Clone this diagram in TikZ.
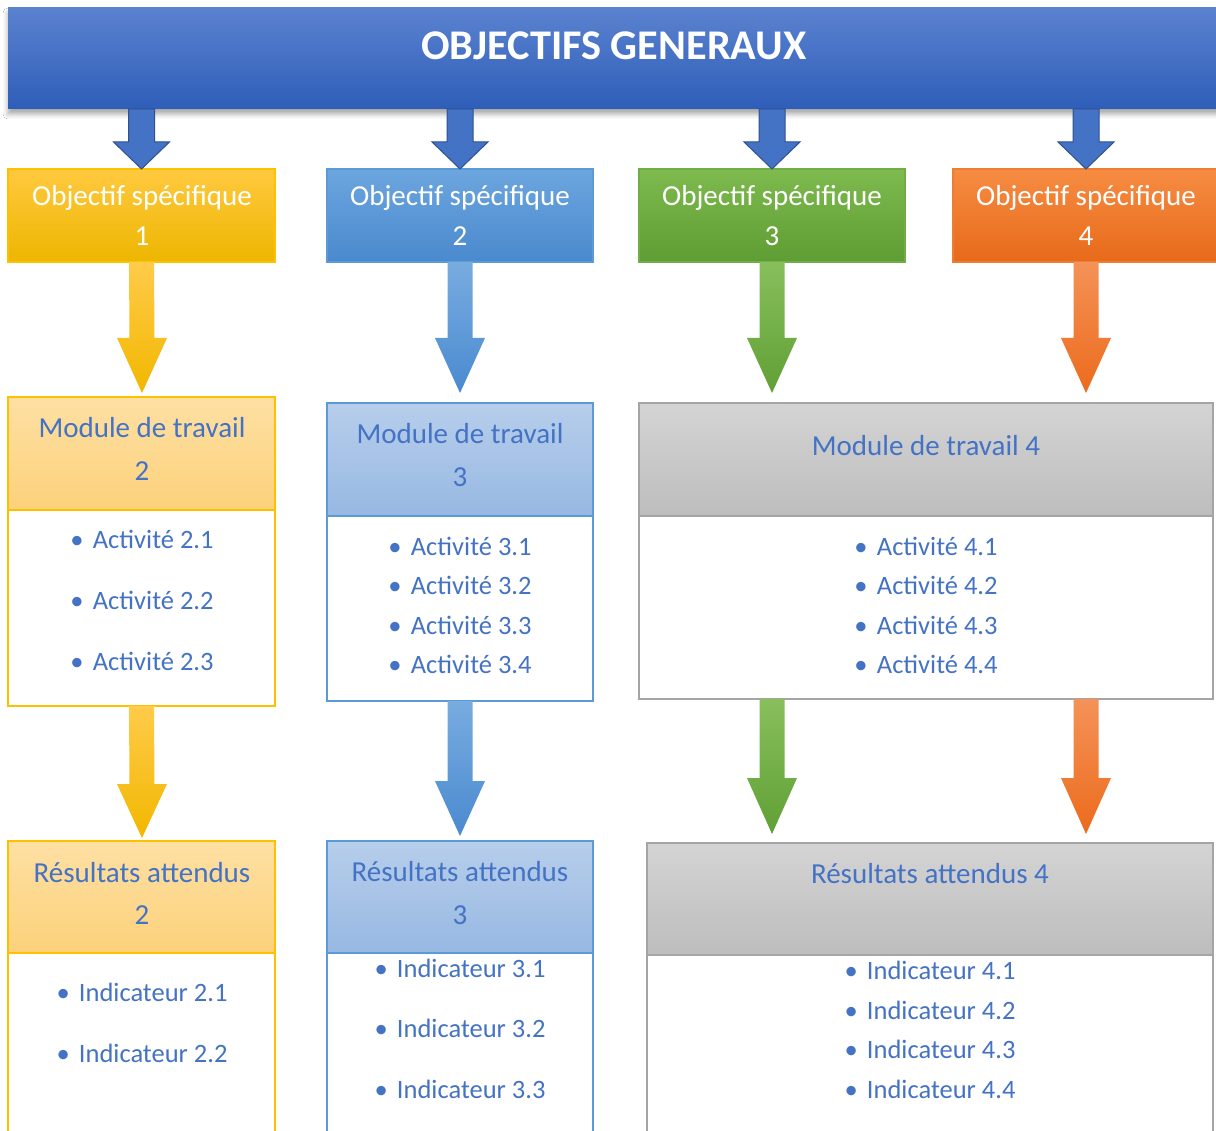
\documentclass[tikz,border=0pt]{standalone}
\usepackage{fontspec}
\setmainfont{Carlito}
\usetikzlibrary{calc,fit,shadows.blur}

\definecolor{bantop}{HTML}{5B82CF}
\definecolor{banbot}{HTML}{2E5EB9}
\definecolor{arrblue}{HTML}{4472C4}
\definecolor{arrblueedge}{HTML}{2F528F}
\definecolor{txtblue}{HTML}{4472C4}
\definecolor{ytop}{HTML}{FFC93F}
\definecolor{ybot}{HTML}{EDB600}
\definecolor{yedge}{HTML}{FFC000}
\definecolor{btop}{HTML}{6CA6DF}
\definecolor{bbot}{HTML}{4A89CE}
\definecolor{bedge}{HTML}{5B9BD5}
\definecolor{gtop}{HTML}{7EBA4E}
\definecolor{gbot}{HTML}{5E9D33}
\definecolor{gedge}{HTML}{70AD47}
\definecolor{otop}{HTML}{F68C42}
\definecolor{obot}{HTML}{E86A1A}
\definecolor{oedge}{HTML}{ED7D31}
\definecolor{yhtop}{HTML}{FEE0A4}
\definecolor{yhbot}{HTML}{FCD17A}
\definecolor{bhtop}{HTML}{B7CEEB}
\definecolor{bhbot}{HTML}{97B8E2}
\definecolor{ghtop}{HTML}{D4D4D4}
\definecolor{ghbot}{HTML}{BDBDBD}
\definecolor{grayedge}{HTML}{A5A5A5}
\definecolor{yatop}{HTML}{FFCB4A}
\definecolor{yabot}{HTML}{F2B700}
\definecolor{batop}{HTML}{78ACE0}
\definecolor{babot}{HTML}{4A8AD0}
\definecolor{gatop}{HTML}{88BF5C}
\definecolor{gabot}{HTML}{60A035}
\definecolor{oatop}{HTML}{F49257}
\definecolor{oabot}{HTML}{EC6B1C}

\newcommand\blockarrow[6]{%
  \path[#1] ($(#2)+(-#4,0)$) -- ($(#3)+(-#4,-#6)$) -- ($(#3)+(-#5,-#6)$) -- (#3)
    -- ($(#3)+(#5,-#6)$) -- ($(#3)+(#4,-#6)$) -- ($(#2)+(#4,0)$) -- cycle;}

\tikzset{
  panel/.style={inner sep=0pt, outer sep=0pt, line width=1.6pt},
  objtext/.style={font=\fontsize{29}{35}\selectfont, text=white, anchor=base, inner sep=0pt},
  headtext/.style={font=\fontsize{29}{35}\selectfont, text=txtblue, anchor=base, inner sep=0pt},
  itemtext/.style={font=\fontsize{26.5}{32}\selectfont, text=txtblue, anchor=base, inner sep=0pt},
}

\begin{document}
\begin{tikzpicture}[x=1pt,y=-1pt]
\useasboundingbox (0,0) rectangle (1216,1131);
\clip (0,0) rectangle (1216,1131);
\fill[white] (0,0) rectangle (1216,1131);

% banner
\node[panel, fit={(8,8)(1230,109)}, top color=bantop, bottom color=banbot,
      blur shadow={shadow xshift=0pt, shadow yshift=-5pt, shadow blur radius=5pt, shadow opacity=35}] (ban) {};
\node[font=\bfseries\fontsize{42.3}{50}\selectfont, text=white, anchor=base, inner sep=0pt] (title) at (614,60) {OBJECTIFS GENERAUX};

% objective boxes
\node[panel, fit={(8,169)(275,262)}, draw=yedge, top color=ytop, bottom color=ybot] (o1) {};
\node[panel, fit={(327,169)(593,262)}, draw=bedge, top color=btop, bottom color=bbot] (o2) {};
\node[panel, fit={(639,169)(905,262)}, draw=gedge, top color=gtop, bottom color=gbot] (o3) {};
\node[panel, fit={(953,169)(1219,262)}, draw=oedge, top color=otop, bottom color=obot] (o4) {};

\node[objtext] (o1a) at (142,206) {Objectif spécifique};
\node[objtext] (o1b) at (142,246) {1};
\node[objtext] (o2a) at (460,206) {Objectif spécifique};
\node[objtext] (o2b) at (460,246) {2};
\node[objtext] (o3a) at (772,206) {Objectif spécifique};
\node[objtext] (o3b) at (772,246) {3};
\node[objtext] (o4a) at (1086,206) {Objectif spécifique};
\node[objtext] (o4b) at (1086,246) {4};

% arrows from banner
\foreach \o in {o1,o2,o3,o4}{
  \coordinate (\o top) at (\o.north |- ban.south);
  \blockarrow{fill=arrblue, draw=arrblueedge, line width=1pt, line join=miter}{\o top}{\o.north}{13}{28}{27}
}

% modules
\node[panel, fit={(8,397)(275,510)}, draw=yedge, top color=yhtop, bottom color=yhbot] (m2h) {};
\node[panel, fit={(8,510)(275,706)}, draw=yedge, fill=white] (m2b) {};
\node[panel, fit={(327,403)(593,516)}, draw=bedge, top color=bhtop, bottom color=bhbot] (m3h) {};
\node[panel, fit={(327,516)(593,701)}, draw=bedge, fill=white] (m3b) {};
\node[panel, fit={(639,403)(1213,516)}, draw=grayedge, top color=ghtop, bottom color=ghbot] (m4h) {};
\node[panel, fit={(639,516)(1213,699)}, draw=grayedge, fill=white] (m4b) {};

\node[headtext] (m2t1) at (142,438) {Module de travail};
\node[headtext] (m2t2) at (142,480) {2};
\node[itemtext] (a21) at (142,548) {•\hspace{0.35em}Activité 2.1};
\node[itemtext] (a22) at (142,609) {•\hspace{0.35em}Activité 2.2};
\node[itemtext] (a23) at (142,670) {•\hspace{0.35em}Activité 2.3};

\node[headtext] (m3t1) at (460,444) {Module de travail};
\node[headtext] (m3t2) at (460,486) {3};
\node[itemtext] (a31) at (460,555) {•\hspace{0.35em}Activité 3.1};
\node[itemtext] (a32) at (460,594) {•\hspace{0.35em}Activité 3.2};
\node[itemtext] (a33) at (460,634) {•\hspace{0.35em}Activité 3.3};
\node[itemtext] (a34) at (460,673) {•\hspace{0.35em}Activité 3.4};

\node[headtext] (m4t1) at (926,456) {Module de travail 4};
\node[itemtext] (a41) at (926,555) {•\hspace{0.35em}Activité 4.1};
\node[itemtext] (a42) at (926,594) {•\hspace{0.35em}Activité 4.2};
\node[itemtext] (a43) at (926,634) {•\hspace{0.35em}Activité 4.3};
\node[itemtext] (a44) at (926,673) {•\hspace{0.35em}Activité 4.4};

% results
\node[panel, fit={(8,841)(275,953)}, draw=yedge, top color=yhtop, bottom color=yhbot] (r2h) {};
\node[panel, fit={(8,953)(275,1160)}, draw=yedge, fill=white] (r2b) {};
\node[panel, fit={(327,841)(593,953)}, draw=bedge, top color=bhtop, bottom color=bhbot] (r3h) {};
\node[panel, fit={(327,953)(593,1160)}, draw=bedge, fill=white] (r3b) {};
\node[panel, fit={(647,843)(1213,955)}, draw=grayedge, top color=ghtop, bottom color=ghbot] (r4h) {};
\node[panel, fit={(647,955)(1213,1160)}, draw=grayedge, fill=white] (r4b) {};

\node[headtext] (r2t1) at (142,882) {Résultats attendus};
\node[headtext] (r2t2) at (142,924) {2};
\node[itemtext] (i21) at (142,1001) {•\hspace{0.35em}Indicateur 2.1};
\node[itemtext] (i22) at (142,1062) {•\hspace{0.35em}Indicateur 2.2};

\node[headtext] (r3t1) at (460,881) {Résultats attendus};
\node[headtext] (r3t2) at (460,924) {3};
\node[itemtext] (i31) at (460,977) {•\hspace{0.35em}Indicateur 3.1};
\node[itemtext] (i32) at (460,1037) {•\hspace{0.35em}Indicateur 3.2};
\node[itemtext] (i33) at (460,1098) {•\hspace{0.35em}Indicateur 3.3};

\node[headtext] (r4t1) at (930,883) {Résultats attendus 4};
\node[itemtext] (i41) at (930,979) {•\hspace{0.35em}Indicateur 4.1};
\node[itemtext] (i42) at (930,1019) {•\hspace{0.35em}Indicateur 4.2};
\node[itemtext] (i43) at (930,1058) {•\hspace{0.35em}Indicateur 4.3};
\node[itemtext] (i44) at (930,1098) {•\hspace{0.35em}Indicateur 4.4};

% arrow end points
\coordinate (m2in) at (142,393);
\coordinate (m3in) at (460,393);
\coordinate (m4in3) at (772,393);
\coordinate (m4in4) at (1086,393);
\coordinate (m4out3) at (772,699);
\coordinate (m4out4) at (1086,699);
\coordinate (r2in) at (142,838);
\coordinate (r3in) at (460,836);
\coordinate (r4in3) at (772,834);
\coordinate (r4in4) at (1086,834);

% objectives -> modules
\blockarrow{top color=yatop, bottom color=yabot}{o1.south}{m2in}{12.5}{25}{55}
\blockarrow{top color=batop, bottom color=babot}{o2.south}{m3in}{12.5}{25}{55}
\blockarrow{top color=gatop, bottom color=gabot}{o3.south}{m4in3}{12.5}{25}{55}
\blockarrow{top color=oatop, bottom color=oabot}{o4.south}{m4in4}{12.5}{25}{55}

% modules -> results
\blockarrow{top color=yatop, bottom color=yabot}{m2b.south}{r2in}{12.5}{25}{54}
\blockarrow{top color=batop, bottom color=babot}{m3b.south}{r3in}{12.5}{25}{55}
\blockarrow{top color=gatop, bottom color=gabot}{m4out3}{r4in3}{12.5}{25}{56}
\blockarrow{top color=oatop, bottom color=oabot}{m4out4}{r4in4}{12.5}{25}{56}
\end{tikzpicture}
\end{document}
